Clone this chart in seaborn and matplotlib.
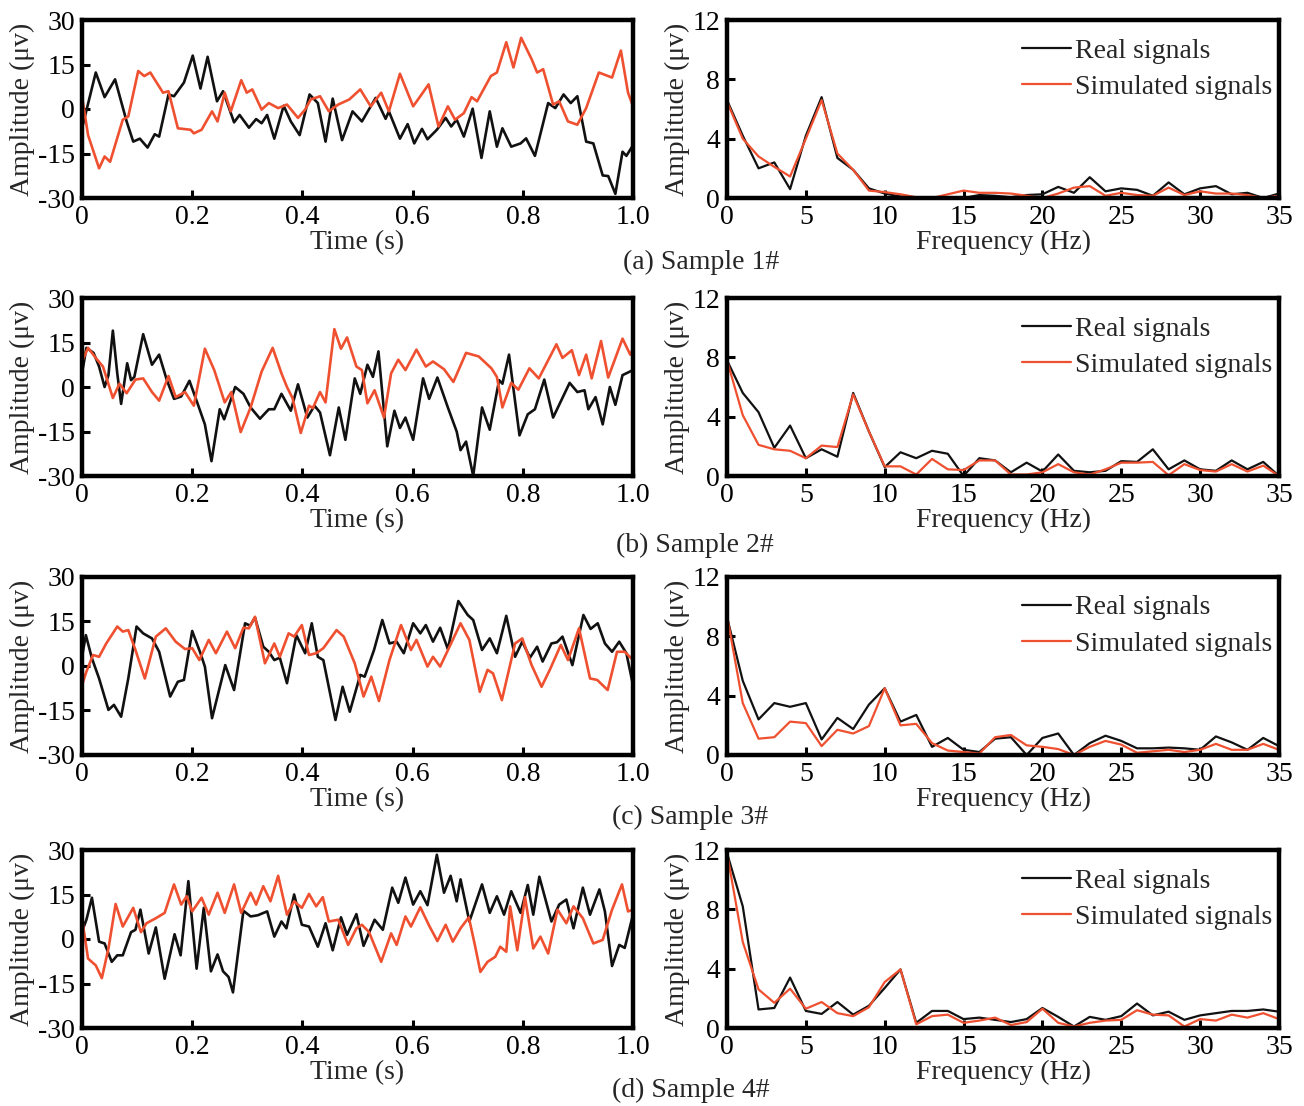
import matplotlib
matplotlib.use("Agg")
import matplotlib.pyplot as plt
import pandas as pd
import seaborn as sns

# ---------------- time domain data (t in s, amplitude in uV) ----------------
a_real_t = [0, 0.025, 0.041, 0.06, 0.081, 0.093, 0.105, 0.119, 0.132, 0.14, 0.157, 0.167, 0.185, 0.201, 0.215, 0.228,
            0.245, 0.256, 0.276, 0.286, 0.303, 0.316, 0.326, 0.336, 0.349, 0.366, 0.379, 0.395, 0.413, 0.428, 0.442,
            0.455, 0.472, 0.491, 0.508, 0.533, 0.551, 0.557, 0.577, 0.591, 0.603, 0.617, 0.627, 0.644, 0.66, 0.67,
            0.68, 0.693, 0.709, 0.725, 0.74, 0.753, 0.763, 0.779, 0.796, 0.806, 0.822, 0.846, 0.859, 0.874, 0.887,
            0.899, 0.915, 0.928, 0.945, 0.955, 0.968, 0.981, 0.988, 1.0]
a_real_v = [-6.5, 12.3, 4, 10, -4.2, -11, -10, -13, -8.5, -9.3, 4.9, 4.3, 8.9, 18, 6.9, 17.6,
            2.6, 6, -4.5, -2, -6.3, -3.4, -4.8, -2, -10, 1.1, -4.2, -8.8, 4.9, 2, -11,
            3.5, -10.5, -0.8, -4.2, 3.75, -3.3, -0.8, -10, -5.1, -11.6, -6.7, -10.2, -7, -3, -5.9,
            -3.6, -9.3, 0.1, -16.5, -0.8, -12.7, -6.5, -12.7, -11.6, -9.9, -15.8, 2, 0.3, 4.9, 2,
            4.3, -11, -11.6, -22.4, -22.6, -28.6, -14.4, -15.8, -12.2]
a_sim_t = [0, 0.011, 0.031, 0.041, 0.051, 0.074, 0.084, 0.102, 0.113, 0.124, 0.147, 0.157, 0.174, 0.197, 0.203, 0.217,
           0.236, 0.246, 0.259, 0.27, 0.289, 0.299, 0.309, 0.326, 0.339, 0.356, 0.372, 0.392, 0.405, 0.415, 0.432,
           0.448, 0.465, 0.485, 0.505, 0.524, 0.543, 0.557, 0.577, 0.601, 0.614, 0.629, 0.647, 0.664, 0.677, 0.693,
           0.707, 0.717, 0.742, 0.753, 0.77, 0.783, 0.797, 0.816, 0.826, 0.837, 0.855, 0.866, 0.882, 0.899, 0.915,
           0.938, 0.962, 0.978, 0.991, 1.0]
a_sim_v = [4.3, -8.8, -20, -16, -17.8, -3.6, -2.5, 12.8, 11.1, 12.3, 5.5, 6, -6.5, -7, -8.2, -7,
           -0.8, -4.2, 5.5, -0.8, 9.7, 5.5, 6.6, -0.2, 2, 0.3, 1.5, -3, -0.2, 3.2, 4.3,
           -0.8, 1.5, 3.2, 6.6, 0.9, 5.5, -0.8, 11.9, 0.9, 4.3, 8.3, -5.9, 0.9, -3.6, -1.4,
           4, 2.6, 11.1, 12.3, 22.5, 14, 24, 16.8, 12.3, 13.4, 1.5, 2.6, -4.2, -5.3, 0.3,
           12.3, 10.6, 19.7, 5.5, 0.9]

b_real_t = [0, 0.008, 0.021, 0.031, 0.041, 0.048, 0.056, 0.064, 0.071, 0.082, 0.089, 0.095, 0.111, 0.127, 0.14, 0.154,
            0.167, 0.18, 0.195, 0.21, 0.223, 0.235, 0.25, 0.258, 0.278, 0.293, 0.306, 0.323, 0.339, 0.349, 0.362,
            0.379, 0.392, 0.409, 0.422, 0.432, 0.45, 0.466, 0.478, 0.495, 0.505, 0.518, 0.528, 0.538, 0.554, 0.567,
            0.577, 0.587, 0.601, 0.619, 0.63, 0.645, 0.664, 0.68, 0.687, 0.697, 0.71, 0.726, 0.74, 0.757, 0.763,
            0.775, 0.794, 0.809, 0.822, 0.839, 0.855, 0.885, 0.899, 0.912, 0.919, 0.932, 0.945, 0.958, 0.968, 0.981, 1.0]
b_real_v = [4.6, 13.2, 11.5, 6.9, 0, 4, 19, 4.6, -5.7, 8, 2.3, 3.4, 17.8, 7.5, 10.9, 2.3,
            -4, -3.2, 2.1, -5.7, -12.6, -25, -7.5, -10.9, 0, -2.3, -6.9, -10.7, -7.5, -7.5, -2.3,
            -8, 0.9, -10.3, -6.3, -8.6, -23, -6.9, -17.8, 2.9, -2.3, 7.5, 3.4, 12, -20, -8,
            -13.8, -10.3, -17.8, 2.9, -4, 3.2, -6.9, -15, -21.3, -18.4, -30, -6.9, -14.4, 2.3, 1.1,
            10.9, -16.3, -9.2, -7.5, 2.5, -10.3, 1.4, -1.7, -1.1, -7.5, -3.4, -12.6, 0, -6, 4, 5.7]
b_sim_t = [0, 0.011, 0.025, 0.038, 0.056, 0.068, 0.081, 0.097, 0.111, 0.127, 0.14, 0.157, 0.17, 0.187, 0.203, 0.223,
           0.24, 0.259, 0.271, 0.288, 0.306, 0.326, 0.346, 0.362, 0.372, 0.382, 0.397, 0.412, 0.419, 0.432, 0.442,
           0.458, 0.47, 0.481, 0.498, 0.508, 0.518, 0.531, 0.548, 0.561, 0.574, 0.587, 0.607, 0.624, 0.637, 0.657,
           0.674, 0.697, 0.72, 0.743, 0.753, 0.763, 0.779, 0.792, 0.812, 0.829, 0.861, 0.872, 0.889, 0.902, 0.915,
           0.925, 0.942, 0.955, 0.981, 0.995, 1.0]
b_sim_v = [8.6, 13.2, 9.8, 6.9, -3.7, 1.1, -2.1, 2.5, 2.9, -1.7, -4.6, 3.7, -3.4, -1.7, -6.3, 12.9,
           5.7, -5.2, -1.7, -15.2, -6.9, 5.2, 13.2, 4.6, 0, -3.7, -15.5, -6.3, -7.1, -1.7, -5.2,
           19.5, 12.9, 16.7, 6.9, 5.7, -5.5, -1.1, -10.3, 4.6, 9.2, 5.7, 12.6, 6.9, 8.6, 6,
           1.7, 11.5, 10.3, 6.3, 3.4, -6.9, 1.4, -0.9, 6.3, 2.9, 14.4, 9.8, 12.4, 4, 10.9,
           2.9, 15.5, 3.2, 16.3, 10.9, 12.9]

c_real_t = [0, 0.007, 0.018, 0.031, 0.048, 0.058, 0.071, 0.084, 0.099, 0.111, 0.127, 0.14, 0.16, 0.174, 0.185, 0.2,
            0.215, 0.223, 0.236, 0.26, 0.276, 0.296, 0.305, 0.314, 0.329, 0.339, 0.349, 0.359, 0.372, 0.389, 0.405,
            0.417, 0.428, 0.438, 0.46, 0.473, 0.486, 0.505, 0.513, 0.53, 0.545, 0.558, 0.571, 0.584, 0.601, 0.614,
            0.624, 0.637, 0.65, 0.664, 0.683, 0.7, 0.71, 0.726, 0.74, 0.753, 0.77, 0.786, 0.799, 0.813, 0.826,
            0.836, 0.852, 0.862, 0.872, 0.89, 0.91, 0.923, 0.936, 0.949, 0.962, 0.975, 0.988, 1.0]
c_real_v = [3.1, 10.4, 2.6, -4.2, -14.8, -13.1, -17.1, -4.2, 13.3, 11, 9.3, 4.8, -10.3, -5.3, -4.7, 11.8,
            4.3, -0.2, -17.6, 0.3, -8.1, 14.4, 13.6, 16.3, 6.5, 4.8, 2, 2.8, -5.8, 10.4, 4.3,
            14.4, 3.1, 2, -18.2, -7, -15.4, -3, -3.6, 5.4, 15.5, 7.6, 8.2, 4.3, 14.4, 11,
            13.8, 8.2, 12.9, 5.7, 21.9, 17.2, 15.5, 5.4, 9.3, 4.3, 16.9, 3.1, 8.2, 2.8, 6.5,
            1.5, 7.6, 8, 9.9, 0.3, 17.2, 12.5, 14.4, 7.6, 4.8, 8.2, 4.3, -6.4]
c_sim_t = [0, 0.008, 0.02, 0.031, 0.044, 0.064, 0.074, 0.084, 0.097, 0.114, 0.134, 0.152, 0.17, 0.187, 0.2, 0.213,
           0.23, 0.243, 0.263, 0.278, 0.293, 0.303, 0.314, 0.332, 0.349, 0.359, 0.375, 0.385, 0.399, 0.412, 0.425,
           0.438, 0.462, 0.475, 0.495, 0.511, 0.525, 0.539, 0.558, 0.579, 0.597, 0.607, 0.627, 0.637, 0.65, 0.667,
           0.687, 0.703, 0.722, 0.736, 0.746, 0.762, 0.786, 0.799, 0.816, 0.834, 0.849, 0.869, 0.882, 0.902, 0.922,
           0.935, 0.954, 0.971, 0.985, 1.0]
c_sim_v = [-6.4, -1.9, 3.7, 3.1, 7.6, 13.3, 11.6, 12.1, 5.4, -4.2, 9.9, 12.7, 8.2, 5.7, 6, 2,
           8.8, 4.3, 11.6, 6, 12.9, 12.7, 16.6, 0.9, 7.6, 3.1, 11, 9.9, 13.8, 3.7, 4.3,
           6, 12.1, 9.9, 0.9, -10.3, -3.6, -11.8, 2, 13.8, 5.4, 8.8, -0.2, 3.1, -0.2, 6.5,
           14.4, 8.8, -8.7, -1.3, -2.5, -11.5, 7.6, 9.3, 0.3, -7, -1.3, 7.1, 2, 12.7, -4.2,
           -4.7, -8.1, 4.8, 4.8, 2]

d_real_t = [0, 0.008, 0.018, 0.031, 0.041, 0.054, 0.064, 0.074, 0.089, 0.097, 0.106, 0.121, 0.134, 0.15, 0.168, 0.179,
            0.193, 0.208, 0.221, 0.234, 0.246, 0.256, 0.266, 0.274, 0.293, 0.306, 0.319, 0.336, 0.349, 0.362, 0.371,
            0.385, 0.399, 0.412, 0.428, 0.442, 0.455, 0.47, 0.481, 0.498, 0.511, 0.531, 0.546, 0.563, 0.574, 0.587,
            0.601, 0.614, 0.627, 0.644, 0.657, 0.669, 0.68, 0.687, 0.703, 0.726, 0.74, 0.753, 0.766, 0.779, 0.796,
            0.809, 0.819, 0.83, 0.852, 0.866, 0.879, 0.892, 0.909, 0.922, 0.939, 0.949, 0.962, 0.975, 0.985, 1.0]
d_real_v = [2.5, 6.5, 13.9, -0.9, -1.5, -7.7, -5.5, -5.5, 2.3, 3.1, 9.9, -4.9, 3.9, -13.4, 1.6, -5.5,
            19.5, -10, 10.5, -10.9, -5.2, -10.9, -12.8, -18, 9.5, 7.6, 8, 9.3, 0.8, 5.9, 3.6,
            15, 4.8, 4.2, -2.6, 5.3, -3.8, 7.3, 1.4, 8.4, -2.3, 6.5, 3.1, 17.3, 12.2, 20.7,
            11.6, 16.1, 11.4, 28.4, 15.6, 21.3, 12.7, 20.1, 5.9, 18.4, 8.8, 14.4, 8.2, 16.1, 8.8,
            18.2, 8.2, 21, 5.9, 11.6, 13.3, 3.6, 17.3, 8.2, 16.7, 9.3, -9.1, -2, -3, 8.2]
d_sim_t = [0, 0.011, 0.025, 0.036, 0.048, 0.061, 0.074, 0.093, 0.107, 0.117, 0.134, 0.15, 0.167, 0.18, 0.19, 0.2,
           0.217, 0.23, 0.246, 0.259, 0.276, 0.289, 0.306, 0.316, 0.329, 0.342, 0.356, 0.372, 0.385, 0.399, 0.412,
           0.425, 0.437, 0.448, 0.465, 0.483, 0.498, 0.508, 0.521, 0.543, 0.561, 0.571, 0.587, 0.597, 0.614, 0.63,
           0.645, 0.66, 0.673, 0.687, 0.702, 0.713, 0.723, 0.736, 0.75, 0.759, 0.77, 0.777, 0.79, 0.804, 0.819,
           0.832, 0.846, 0.863, 0.879, 0.892, 0.909, 0.928, 0.945, 0.962, 0.98, 0.991, 1.0]
d_sim_v = [7, -6.6, -8.9, -13.2, -3.2, 11.8, 4.2, 10.5, 2.3, 5.3, 7, 8.8, 18.4, 11.6, 14.4, 9.3,
           13.9, 8.2, 15.6, 8.8, 18.4, 8.8, 15.6, 11.6, 17.8, 12.7, 21.3, 8.2, 12.7, 10.5, 15.2,
           11, 14.1, 5.9, 6.5, -2, 3.6, 4.8, 2.3, -7.7, 1.9, -2, 7.6, 4.2, 10.7, 4.5,
           -0.7, 4.8, -0.9, 3.6, 7.3, -2, -11.1, -7.7, -6, -2.6, -4.3, 11, -3.8, 14.1, -3.2,
           0.8, -4.9, 9.9, 5.3, 11, 7, -1.5, -0.3, 9.9, 18.4, 9.3, 9.9]

# ---------------- frequency domain data (0..35 Hz) ----------------
freq = list(range(36))
a_real_f = [6.6, 4.2, 2.0, 2.4, 0.6, 4.2, 6.8, 2.7, 1.9, 0.65, 0.3, 0.1, 0.0, 0.0, 0.0, 0.0, 0.2, 0.15,
            0.05, 0.2, 0.25, 0.75, 0.35, 1.4, 0.45, 0.65, 0.55, 0.15, 1.05, 0.25, 0.65, 0.8, 0.25, 0.35, 0.0, 0.3]
a_sim_f = [6.5, 4.0, 2.8, 2.1, 1.45, 4.0, 6.6, 3.0, 1.9, 0.5, 0.4, 0.25, 0.05, 0.0, 0.25, 0.5, 0.35, 0.35,
           0.3, 0.15, 0.0, 0.3, 0.7, 0.8, 0.15, 0.35, 0.2, 0.15, 0.7, 0.2, 0.45, 0.3, 0.3, 0.2, 0.0, 0.15]
b_real_f = [7.8, 5.6, 4.3, 1.9, 3.4, 1.2, 1.8, 1.3, 5.6, 3.0, 0.6, 1.6, 1.2, 1.7, 1.5, 0.0, 1.2, 1.05,
            0.25, 0.9, 0.3, 1.45, 0.35, 0.25, 0.35, 1.0, 0.95, 1.8, 0.45, 1.05, 0.45, 0.35, 1.05, 0.45, 0.95, 0.0]
b_sim_f = [7.8, 4.1, 2.1, 1.8, 1.7, 1.2, 2.05, 1.95, 5.5, 3.0, 0.65, 0.65, 0.1, 1.15, 0.45, 0.4, 1.05, 1.05,
           0.1, 0.1, 0.25, 0.8, 0.25, 0.1, 0.45, 0.9, 0.9, 0.95, 0.05, 0.8, 0.4, 0.3, 0.8, 0.3, 0.7, 0.0]
c_real_f = [9.3, 5.0, 2.4, 3.5, 3.25, 3.5, 1.05, 2.5, 1.75, 3.4, 4.5, 2.25, 2.7, 0.55, 1.15, 0.35, 0.2, 1.1,
            1.2, 0.0, 1.15, 1.45, 0.0, 0.8, 1.3, 0.95, 0.45, 0.45, 0.5, 0.45, 0.35, 1.25, 0.85, 0.35, 1.15, 0.6]
c_sim_f = [9.4, 3.5, 1.1, 1.2, 2.25, 2.15, 0.6, 1.7, 1.45, 1.95, 4.5, 2.0, 2.1, 0.8, 0.3, 0.2, 0.1, 1.2,
           1.35, 0.65, 0.55, 0.4, 0.0, 0.55, 0.95, 0.7, 0.15, 0.25, 0.35, 0.2, 0.35, 0.75, 0.35, 0.35, 0.75, 0.35]
d_real_f = [11.8, 8.2, 1.25, 1.35, 3.4, 1.15, 0.95, 1.75, 0.9, 1.5, 2.7, 3.95, 0.35, 1.15, 1.15, 0.6, 0.7, 0.55,
            0.4, 0.6, 1.35, 0.75, 0.1, 0.75, 0.55, 0.8, 1.65, 0.85, 1.1, 0.55, 0.85, 1.0, 1.15, 1.15, 1.25, 1.1]
d_sim_f = [11.8, 5.8, 2.6, 1.7, 2.65, 1.3, 1.75, 1.0, 0.8, 1.4, 3.1, 3.95, 0.25, 0.8, 0.9, 0.35, 0.5, 0.7,
           0.2, 0.4, 1.3, 0.35, 0.1, 0.35, 0.5, 0.55, 1.2, 0.9, 0.85, 0.1, 0.6, 0.5, 0.9, 0.7, 1.0, 0.6]

captions = ["(a) Sample 1#", "(b) Sample 2#", "(c) Sample 3#", "(d) Sample 4#"]

time_sets = [(a_real_t, a_real_v, a_sim_t, a_sim_v),
             (b_real_t, b_real_v, b_sim_t, b_sim_v),
             (c_real_t, c_real_v, c_sim_t, c_sim_v),
             (d_real_t, d_real_v, d_sim_t, d_sim_v)]
freq_sets = [(a_real_f, a_sim_f), (b_real_f, b_sim_f), (c_real_f, c_sim_f), (d_real_f, d_sim_f)]

RED = "#ef5030"
BLACK = "#111111"

sns.set_style("ticks")
plt.rcParams["font.family"] = ["Liberation Serif", "DejaVu Serif"]
plt.rcParams["axes.unicode_minus"] = False
plt.rcParams["font.size"] = 20

W, H = 1304, 1106
fig = plt.figure(figsize=(W / 100, H / 100), dpi=100)

row_bottoms = [198, 476, 755, 1028]   # pixel y of axes bottom
row_h = 178
cap_pos = [(701, 262), (695, 545), (690, 817), (691, 1090)]


def style_ax(ax):
    for sp in ax.spines.values():
        sp.set_linewidth(3.2)
        sp.set_color("black")
    ax.tick_params(direction="in", length=6, width=2.2, pad=5, labelsize=20,
                   top=False, right=False, colors="black")


for i in range(4):
    yb = 1 - row_bottoms[i] / H
    h = row_h / H
    axl = fig.add_axes([82 / W, yb, 551 / W, h])
    axr = fig.add_axes([727 / W, yb, 552 / W, h])

    rt, rv, st, sv = time_sets[i]
    df_r = pd.DataFrame({"t": rt, "v": rv})
    df_s = pd.DataFrame({"t": st, "v": sv})
    sns.lineplot(data=df_r, x="t", y="v", ax=axl, color=BLACK, lw=1.9, estimator=None, sort=False)
    sns.lineplot(data=df_s, x="t", y="v", ax=axl, color=RED, lw=1.9, estimator=None, sort=False)
    axl.set_xlim(0, 1)
    axl.set_ylim(-30, 30)
    axl.set_xticks([0, 0.2, 0.4, 0.6, 0.8, 1.0])
    axl.set_xticklabels(["0", "0.2", "0.4", "0.6", "0.8", "1.0"])
    axl.set_yticks([-30, -15, 0, 15, 30])
    axl.set_xlabel("Time (s)", fontsize=20, labelpad=0)
    axl.set_ylabel("Amplitude (μv)", fontsize=20, labelpad=2)
    style_ax(axl)

    rf, sf = freq_sets[i]
    df_f = pd.DataFrame({"f": freq + freq,
                         "amp": rf + sf,
                         "kind": ["Real signals"] * len(freq) + ["Simulated signals"] * len(freq)})
    sns.lineplot(data=df_f, x="f", y="amp", hue="kind", ax=axr,
                 palette={"Real signals": BLACK, "Simulated signals": RED}, lw=1.6, estimator=None)
    axr.set_xlim(0, 35)
    axr.set_ylim(0, 12)
    axr.set_xticks(range(0, 36, 5))
    axr.set_yticks([0, 4, 8, 12])
    axr.set_xlabel("Frequency (Hz)", fontsize=20, labelpad=0)
    axr.set_ylabel("Amplitude (μv)", fontsize=20, labelpad=2)
    style_ax(axr)
    axr.legend(loc="upper right", bbox_to_anchor=(1.02, 1.0), frameon=False, fontsize=20,
               handlelength=1.75, handletextpad=0.15, labelspacing=0.4,
               borderaxespad=0.1, borderpad=0.55)

    fig.text(cap_pos[i][0] / W, 1 - cap_pos[i][1] / H, captions[i], fontsize=20,
             ha="center", va="center")

fig.savefig("out.png", dpi=100)
